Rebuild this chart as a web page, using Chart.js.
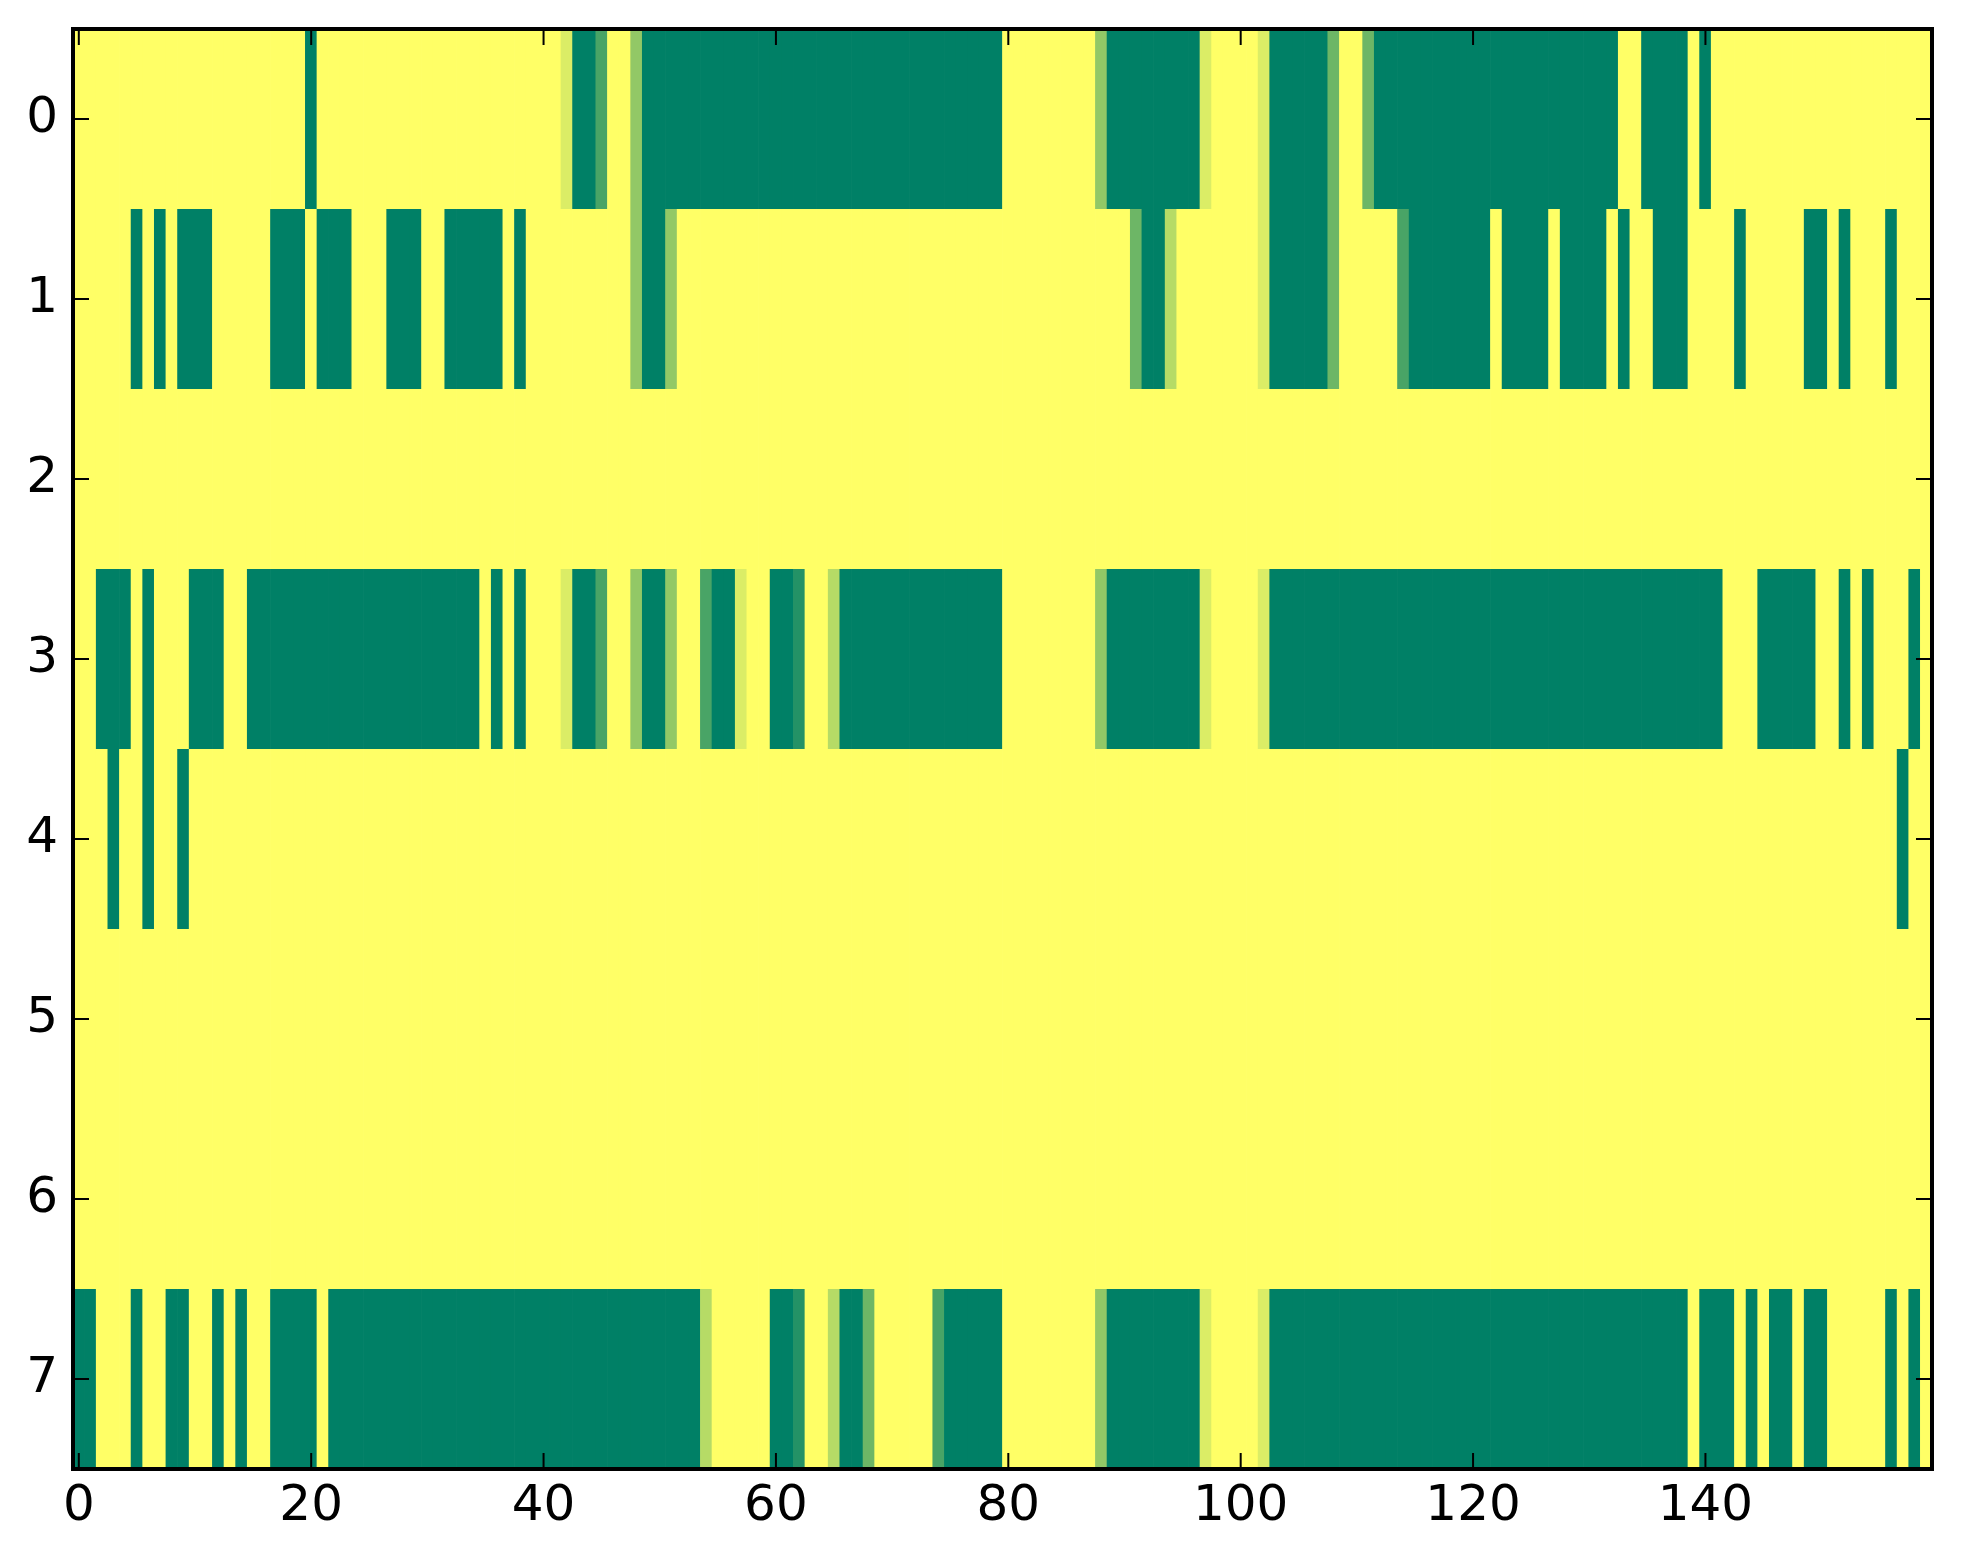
<!DOCTYPE html>
<html>
<head>
<meta charset="utf-8">
<script src="https://cdn.jsdelivr.net/npm/chart.js@4.4.1/dist/chart.umd.min.js"></script>
<style>
    html, body { margin: 0; padding: 0; background: #fff; }
    #wrap { width: 1963px; height: 1564px; }
</style>
</head>
<body>
<div id="wrap"><canvas id="heatChart" width="1963" height="1564"></canvas></div>
<script>
// Cell values, one digit per column (160 columns per row).
// Digit = value in sevenths: 0 -> 0.0 (dark green), 7 -> 1.0 (yellow).
const rowLabels = [0, 1, 2, 3, 4, 5, 6, 7];
const xTickValues = [0, 20, 40, 60, 80, 100, 120, 140];
const levelScale = 7;

const row0 = ['7777777777', '7777777777', '0777777777', '7777777777',
              '7760027740', '0000000000', '0000000000', '0000000000',
              '7777777740', '0000000677', '7760000037', '7300000000',
              '0000000000', '0007700007', '0777777777', '7777777777'].join('');
const row1 = ['7777707070', '0077777000', '7000777000', '7700000707',
              '7777777740', '0477777777', '7777777777', '7777777777',
              '7777777777', '7300577777', '7760000037', '7777200000',
              '0070000700', '0070770007', '7770777770', '0707770777'].join('');
const row2 = '7777777777'.repeat(16);
const row3 = ['7700070777', '0007700000', '0000000000', '0000070707',
              '7760027740', '0477200677', '0017750000', '0000000000',
              '7777777740', '0000000677', '7760000000', '0000000000',
              '0000000000', '0000000000', '0077700000', '7707077707'].join('');
const row4 = ['7770770770', '7777777777', '7777777777', '7777777777',
              '7777777777', '7777777777', '7777777777', '7777777777',
              '7777777777', '7777777777', '7777777777', '7777777777',
              '7777777777', '7777777777', '7777777777', '7777777077'].join('');
const row5 = '7777777777'.repeat(16);
const row6 = '7777777777'.repeat(16);
const row7 = ['0077707700', '7707077000', '0700000000', '0000000000',
              '0000000000', '0000577777', '0017750037', '7777200000',
              '7777777740', '0000000677', '7760000000', '0000000000',
              '0000000000', '0000000007', '0007070070', '0777770707'].join('');

const rows = [row0, row1, row2, row3, row4, row5, row6, row7];

// matplotlib "summer" colormap: (v, 0.5 + v/2, 0.4)
function summerColor(v) {
    const r = Math.round(255 * v);
    const g = Math.round(255 * (0.5 + 0.5 * v));
    return `rgb(${r},${g},102)`;
}

const datasets = rowLabels.map((r, i) => {
    const values = rows[i].split('').map(d => Number(d) / levelScale);
    return {
        label: 'row ' + r,
        data: values.map((v, c) => ({ x: c, y: [r - 0.5, r + 0.5] })),
        backgroundColor: values.map(summerColor),
        borderWidth: 0,
        grouped: false,
        barPercentage: 1.06,
        categoryPercentage: 1
    };
});

const tickFont = { family: 'DejaVu Sans', size: 50 };

// Frame and inward tick marks on all four sides, like matplotlib classic style
const axesFramePlugin = {
    id: 'axesFrame',
    afterDraw(chart) {
        const { ctx, chartArea: a, scales } = chart;
        const len = 16;
        ctx.save();
        ctx.strokeStyle = '#000';
        ctx.lineWidth = 2;
        ctx.beginPath();
        xTickValues.forEach(v => {
            const px = scales.x.getPixelForValue(v);
            ctx.moveTo(px, a.bottom); ctx.lineTo(px, a.bottom - len);
            ctx.moveTo(px, a.top); ctx.lineTo(px, a.top + len);
        });
        rowLabels.forEach(v => {
            const py = scales.y.getPixelForValue(v);
            ctx.moveTo(a.left, py); ctx.lineTo(a.left + len, py);
            ctx.moveTo(a.right, py); ctx.lineTo(a.right - len, py);
        });
        ctx.stroke();
        ctx.lineWidth = 4;
        ctx.strokeRect(a.left, a.top, a.right - a.left, a.bottom - a.top);
        ctx.restore();
    }
};

new Chart(document.getElementById('heatChart'), {
    type: 'bar',
    data: { datasets: datasets },
    options: {
        responsive: false,
        devicePixelRatio: 1,
        animation: false,
        layout: { padding: { top: 29, right: 31, left: 0, bottom: 0 } },
        plugins: {
            legend: { display: false },
            tooltip: { enabled: false }
        },
        scales: {
            x: {
                type: 'linear',
                offset: false,
                min: -0.5,
                max: 159.5,
                grid: { display: false, drawTicks: false },
                border: { display: false },
                ticks: { font: tickFont, color: '#000', padding: 8, maxRotation: 0 },
                afterBuildTicks: scale => { scale.ticks = xTickValues.map(v => ({ value: v })); },
                afterFit: scale => {
                    scale.height = 95;
                    scale.paddingLeft = 0;
                    scale.paddingRight = 0;
                }
            },
            y: {
                type: 'linear',
                reverse: true,
                min: -0.5,
                max: 7.5,
                grid: { display: false, drawTicks: false },
                border: { display: false },
                ticks: { font: tickFont, color: '#000', padding: 15 },
                afterBuildTicks: scale => { scale.ticks = rowLabels.map(v => ({ value: v })); },
                afterFit: scale => {
                    scale.width = 73;
                    scale.paddingTop = 0;
                    scale.paddingBottom = 0;
                }
            }
        }
    },
    plugins: [axesFramePlugin]
});
</script>
</body>
</html>
